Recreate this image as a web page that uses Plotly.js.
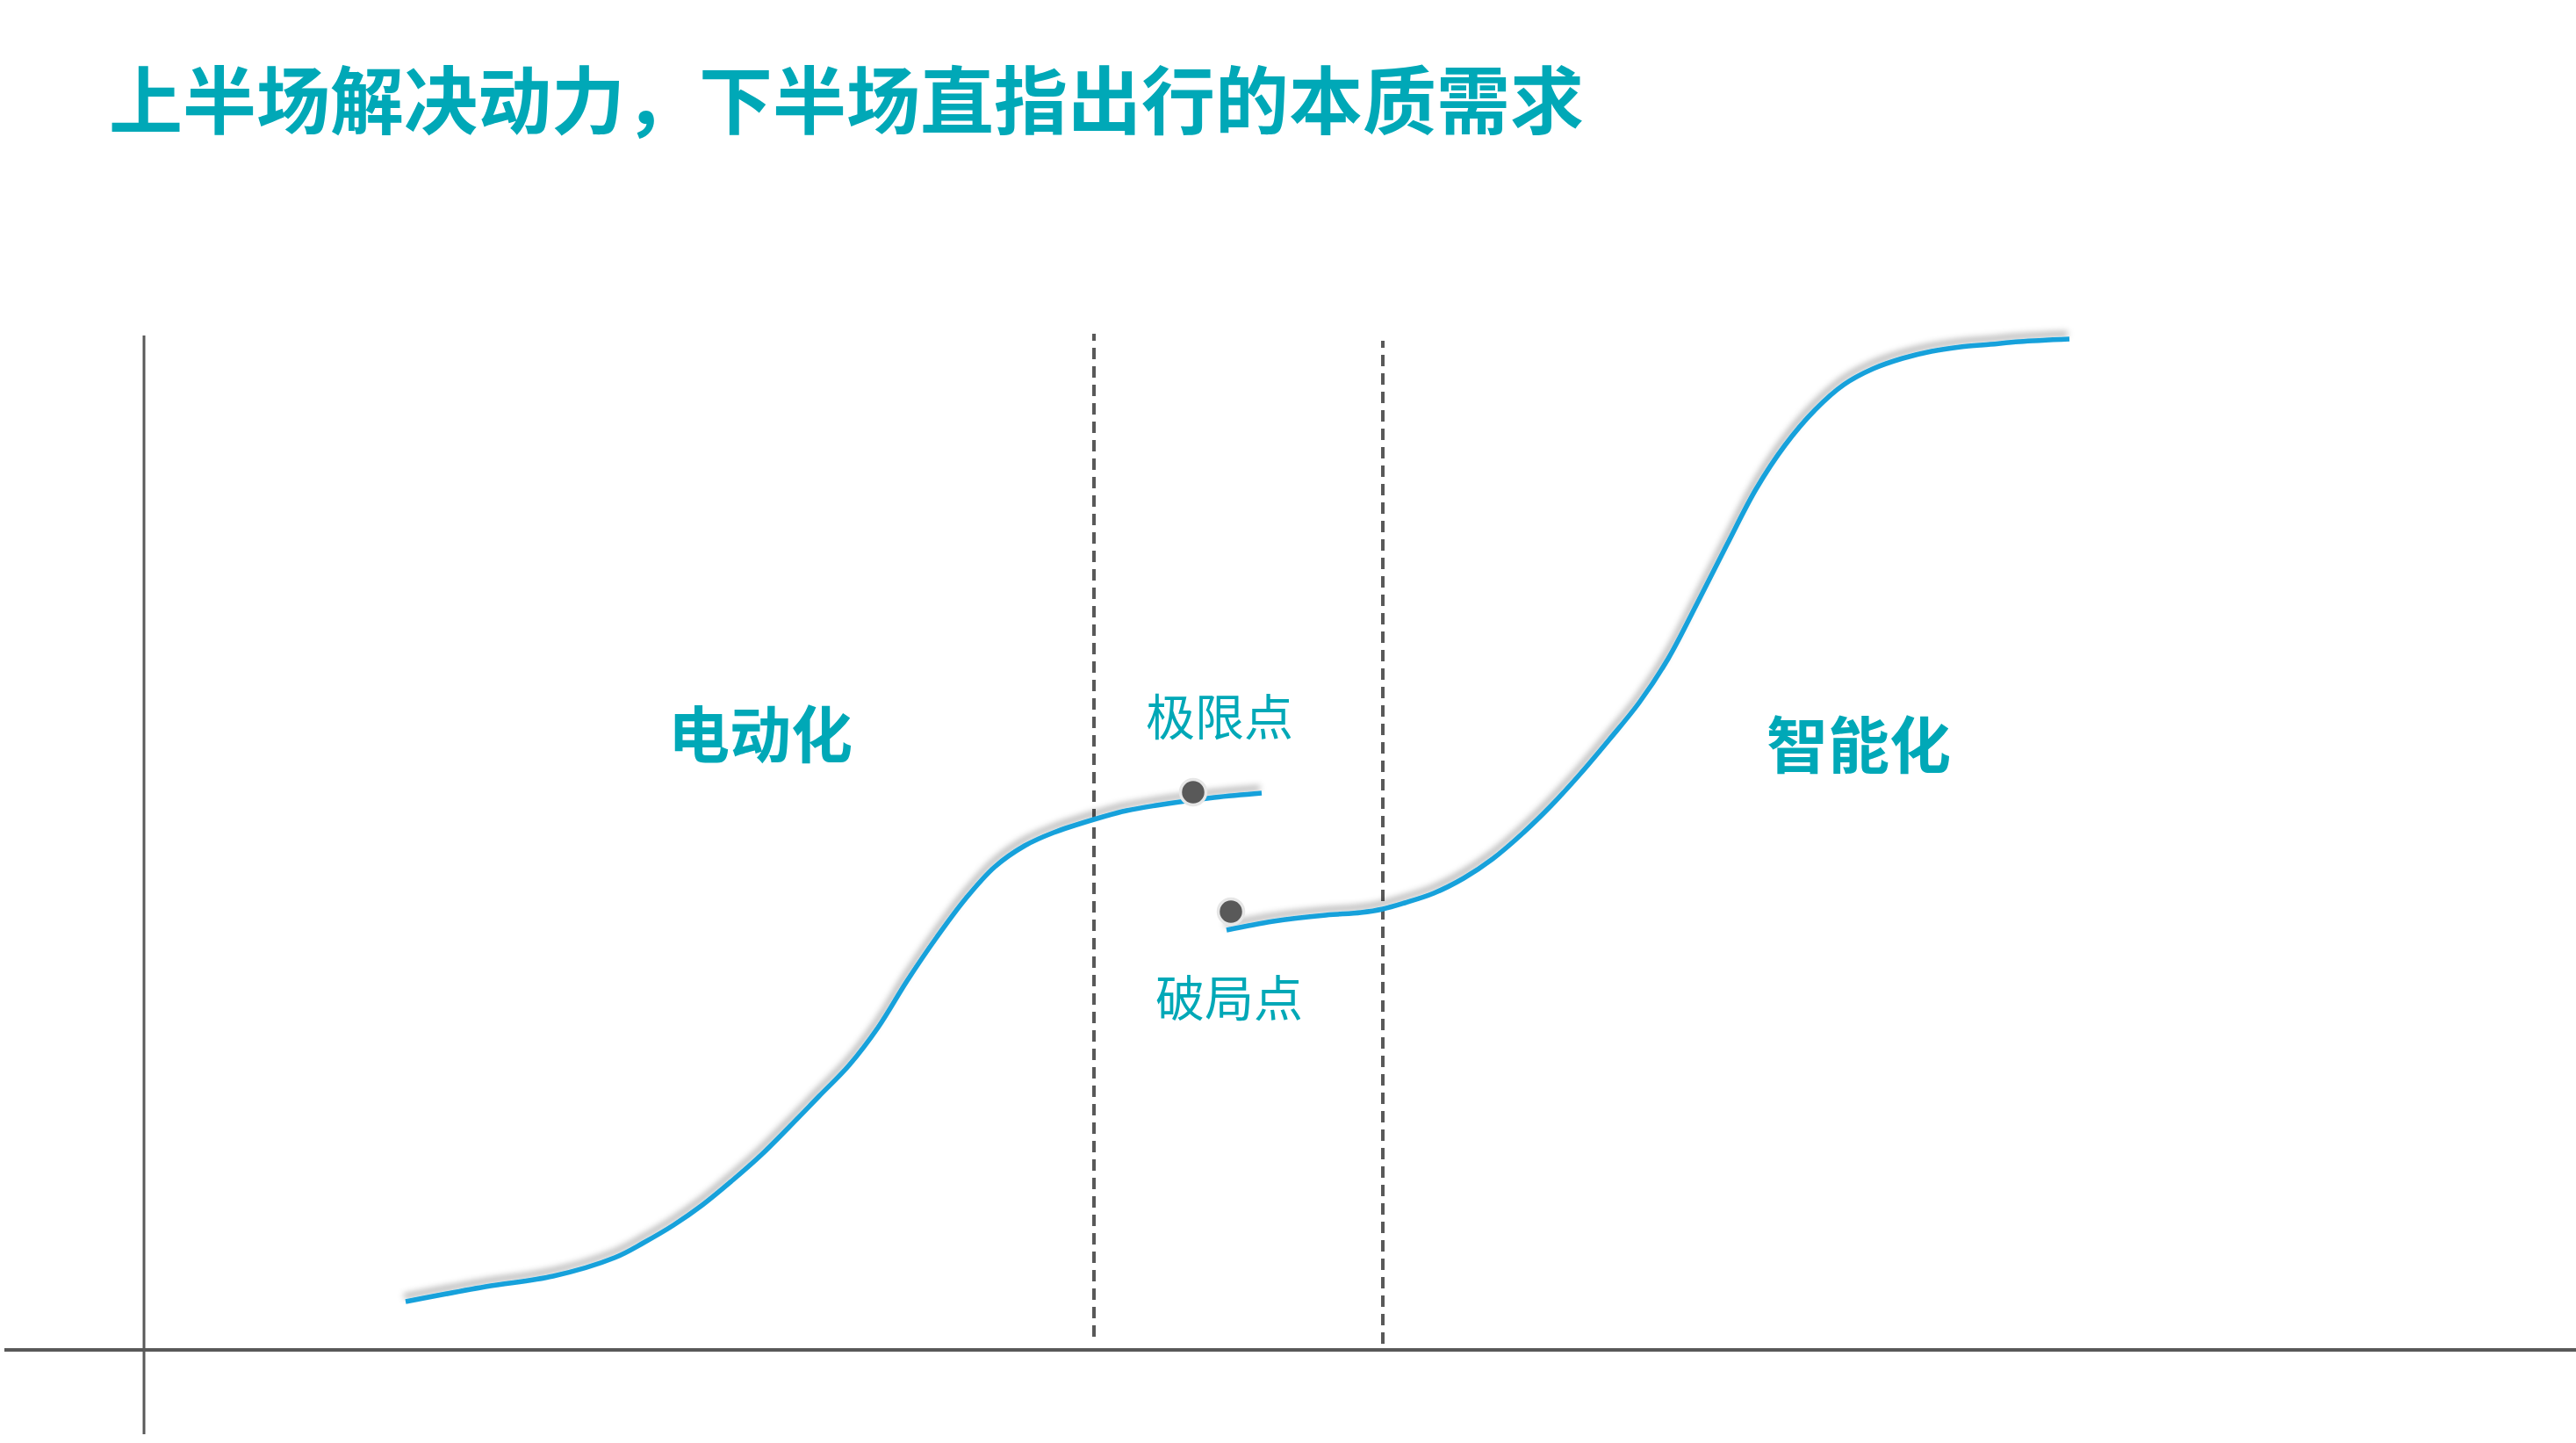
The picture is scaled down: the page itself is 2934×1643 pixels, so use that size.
<!DOCTYPE html>
<html>
<head>
<meta charset="utf-8">
<script src="https://cdn.plot.ly/plotly-3.0.1.min.js"></script>
<style>
  html, body { margin: 0; padding: 0; background: #ffffff; }
  #chart { width: 2934px; height: 1643px; }
</style>
</head>
<body>
<div id="chart"></div>
<script>
// ---- Data (x = time, y = capability, origin at the axes) ----
const titleText = '上半场解决动力，下半场直指出行的本质需求';

const electricX = [29.8, 38.9, 46.6, 53.6, 56.9, 60.3, 63.6, 66.9, 70.3, 73.6, 76.9, 80.3, 83.6, 86.9, 90.3, 93.6, 96.9, 100.3, 103.6, 108.2, 111.9, 115.3, 121.9, 127.3];
const electricY = [5.5, 7.2, 8.4, 10.5, 12.2, 14.2, 16.5, 19.2, 22.2, 25.5, 28.9, 32.4, 36.7, 42.0, 47.0, 51.4, 55.0, 57.4, 58.9, 60.4, 61.4, 62.0, 62.9, 63.4];

const smartX = [123.3, 128.6, 134.6, 138.6, 141.1, 143.6, 146.9, 150.3, 153.6, 156.9, 160.3, 163.6, 166.9, 170.3, 173.6, 176.9, 180.3, 183.6, 186.9, 190.3, 193.6, 196.9, 200.3, 203.6, 206.9, 210.3, 213.6, 219.3];
const smartY = [47.8, 48.8, 49.5, 49.8, 50.2, 50.9, 52.0, 53.7, 55.9, 58.7, 62.0, 65.6, 69.5, 73.7, 78.7, 85.0, 91.7, 98.0, 103.0, 107.0, 109.9, 111.7, 112.9, 113.7, 114.2, 114.5, 114.8, 115.1];

const keyPointNames = ['极限点', '破局点'];
const keyPointX = [119.5, 123.8];
const keyPointY = [63.5, 49.9];

const phaseNames = ['电动化', '智能化'];

const dividerX = [108.2, 141.1];
const dividerBottom = [1.5, 0.7];
const dividerTop = [115.7, 114.9];

const xAxisSpan = [-15.9, 277.0];
const yAxisSpan = [-9.6, 115.5];

// ---- Layout / style settings ----
const TEAL = '#00a8b7';
const BLUE = '#17a1db';
const GREY = '#595959';
const CJK = '"Noto Sans CJK SC", "Noto Sans", sans-serif';

const phaseLabelPos = [{x: 70.2, y: 70.5}, {x: 195.3, y: 69.3}];
const pointLabelPos = [{x: 122.5, y: 72.5}, {x: 123.6, y: 40.5}];

const traces = [
  {
    x: electricX, y: electricY, type: 'scatter', mode: 'lines',
    line: {color: BLUE, width: 5.5, shape: 'spline', smoothing: 1},
    hoverinfo: 'skip', showlegend: false
  },
  {
    x: smartX, y: smartY, type: 'scatter', mode: 'lines',
    line: {color: BLUE, width: 5.5, shape: 'spline', smoothing: 1},
    hoverinfo: 'skip', showlegend: false
  },
  {
    x: keyPointX, y: keyPointY, type: 'scatter', mode: 'markers',
    marker: {color: GREY, size: 29, line: {color: '#e6e6e6', width: 3.5}},
    hoverinfo: 'skip', showlegend: false
  }
];

const shapes = [];
// axes
shapes.push({type: 'line', xref: 'x', yref: 'y', x0: xAxisSpan[0], x1: xAxisSpan[1], y0: 0, y1: 0,
  line: {color: GREY, width: 4}, layer: 'below'});
shapes.push({type: 'line', xref: 'x', yref: 'y', x0: 0, x1: 0, y0: yAxisSpan[0], y1: yAxisSpan[1],
  line: {color: GREY, width: 3}, layer: 'below'});
// dashed dividers
dividerX.forEach((dx, i) => {
  shapes.push({type: 'line', xref: 'x', yref: 'y', x0: dx, x1: dx, y0: dividerBottom[i], y1: dividerTop[i],
    line: {color: GREY, width: 4, dash: '13px,8px'}, layer: 'below'});
});

const annotations = [];
phaseNames.forEach((t, i) => {
  annotations.push({x: phaseLabelPos[i].x, y: phaseLabelPos[i].y, xref: 'x', yref: 'y', text: t,
    showarrow: false, xanchor: 'center', yanchor: 'middle',
    font: {family: CJK, size: 70, color: TEAL, weight: 'bold'}});
});
keyPointNames.forEach((t, i) => {
  annotations.push({x: pointLabelPos[i].x, y: pointLabelPos[i].y, xref: 'x', yref: 'y', text: t,
    showarrow: false, xanchor: 'center', yanchor: 'middle',
    font: {family: CJK, size: 56, color: TEAL}});
});

const layout = {
  width: 2934, height: 1643,
  margin: {l: 0, r: 0, t: 0, b: 0, pad: 0},
  paper_bgcolor: '#ffffff', plot_bgcolor: '#ffffff',
  title: {
    text: titleText, xref: 'container', yref: 'container',
    x: 124 / 2934, xanchor: 'left', y: 1 - 117 / 1643, yanchor: 'middle',
    font: {family: CJK, size: 84, color: TEAL, weight: 'bold'}
  },
  xaxis: {range: [-16.4, 277.0], visible: false, fixedrange: true},
  yaxis: {range: [-10.6, 153.7], visible: false, fixedrange: true},
  shapes: shapes,
  annotations: annotations,
  showlegend: false
};

Plotly.newPlot('chart', traces, layout, {staticPlot: true, displayModeBar: false}).then(function (gd) {
  // soft drop shadow under the two curves
  const svg = gd.querySelector('svg.main-svg');
  const NS = 'http://www.w3.org/2000/svg';
  let defs = svg.querySelector('defs');
  if (!defs) { defs = document.createElementNS(NS, 'defs'); svg.insertBefore(defs, svg.firstChild); }
  const f = document.createElementNS(NS, 'filter');
  f.setAttribute('id', 'curveShadow');
  f.setAttribute('filterUnits', 'userSpaceOnUse');
  f.setAttribute('x', '-200'); f.setAttribute('y', '-200');
  f.setAttribute('width', '3400'); f.setAttribute('height', '2100');
  f.innerHTML =
    '<feGaussianBlur in="SourceAlpha" stdDeviation="3.5" result="b"/>' +
    '<feOffset in="b" dx="-2" dy="-6" result="o"/>' +
    '<feFlood flood-color="#000000" flood-opacity="0.32"/>' +
    '<feComposite in2="o" operator="in" result="s"/>' +
    '<feMerge><feMergeNode in="s"/><feMergeNode in="SourceGraphic"/></feMerge>';
  defs.appendChild(f);
  const lines = gd.querySelectorAll('.scatterlayer .trace path.js-line');
  lines.forEach(function (p) { p.setAttribute('filter', 'url(#curveShadow)'); });
});
</script>
</body>
</html>
